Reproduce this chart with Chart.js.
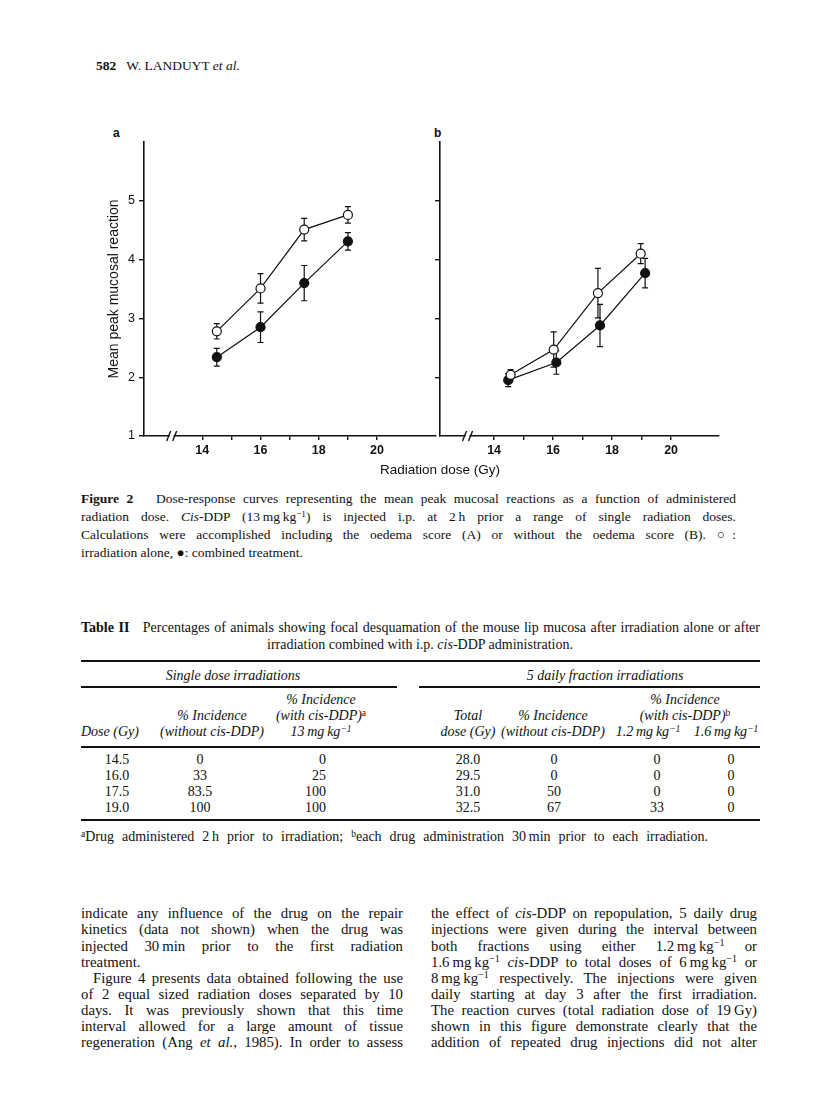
<!DOCTYPE html>
<html>
<head>
<meta charset="utf-8">
<script src="https://cdn.jsdelivr.net/npm/chart.js@4.4.1/dist/chart.umd.min.js"></script>
<style>
  html, body { margin: 0; padding: 0; background: #fff; }
  body { width: 816px; height: 1118px; position: relative; overflow: hidden; color: #111;
         font-family: "Liberation Serif", "Times New Roman", serif; }
  .abs { position: absolute; white-space: nowrap; }
  .ln { position: absolute; line-height: 16px; }
  .j { text-align: justify; text-align-last: justify; white-space: normal; }
  .c { transform: translateX(-50%); text-align: center; }
  .r { transform: translateX(-100%); text-align: right; }
  .it { font-style: italic; }
  sup { font-size: 0.68em; vertical-align: 0.45em; line-height: 0; }
  .sans { font-family: "Liberation Sans", Arial, sans-serif; }
  .rule { position: absolute; background: #111; }
  canvas { position: absolute; }
  .cap { font-size: 13.5px; }
  .tb { font-size: 14px; }
  .body { font-size: 14.8px; }
</style>
</head>
<body>

<div class="abs" style="left:96px; top:58px; font-size:13.5px;"><b>582</b>&nbsp;&nbsp; W. LANDUYT <i>et al.</i></div>

<div class="abs sans" style="left:113px; top:126px; font-size:12px; font-weight:bold;">a</div>
<div class="abs sans" style="left:434px; top:126px; font-size:12px; font-weight:bold;">b</div>

<canvas id="chartA" width="341" height="340" style="left:100px; top:125px;"></canvas>
<canvas id="chartB" width="304" height="340" style="left:420px; top:125px;"></canvas>

<div class="abs sans c" style="left:440px; top:462px; font-size:13.5px;">Radiation dose (Gy)</div>

<!-- figure caption -->
<div class="ln cap j" style="left:81px; top:491px; width:655px;"><b>Figure 2</b>&nbsp;&nbsp; Dose-response curves representing the mean peak mucosal reactions as a function of administered</div>
<div class="ln cap j" style="left:81px; top:509px; width:655px;">radiation dose. <i>Cis</i>-DDP (13&thinsp;mg&thinsp;kg<sup>−1</sup>) is injected i.p. at 2&thinsp;h prior a range of single radiation doses.</div>
<div class="ln cap j" style="left:81px; top:527px; width:655px;">Calculations were accomplished including the oedema score (A) or without the oedema score (B). ○:</div>
<div class="ln cap" style="left:81px; top:545px; white-space:nowrap;">irradiation alone, ●: combined treatment.</div>

<!-- table -->
<div class="ln tb j" style="left:81px; top:620px; width:679px;"><b>Table II</b>&nbsp;&nbsp; Percentages of animals showing focal desquamation of the mouse lip mucosa after irradiation alone or after</div>
<div class="ln tb c" style="left:420px; top:637px; white-space:nowrap;">irradiation combined with i.p. <i>cis</i>-DDP administration.</div>

<div class="rule" style="left:81px; top:660px; width:679px; height:2px;"></div>
<div class="ln tb c it" style="left:233px; top:668px; white-space:nowrap;">Single dose irradiations</div>
<div class="ln tb c it" style="left:605px; top:668px; white-space:nowrap;">5 daily fraction irradiations</div>
<div class="rule" style="left:81px; top:686px; width:316px; height:1.5px;"></div>
<div class="rule" style="left:419px; top:686px; width:341px; height:1.5px;"></div>

<div class="ln tb c it" style="left:321px; top:692px; white-space:nowrap;">% Incidence</div>
<div class="ln tb c it" style="left:321px; top:708px; white-space:nowrap;">(with cis-DDP)<sup style="font-style:normal">a</sup></div>
<div class="ln tb c it" style="left:321px; top:724px; white-space:nowrap;">13&thinsp;mg&thinsp;kg<sup>−1</sup></div>
<div class="ln tb c it" style="left:212px; top:708px; white-space:nowrap;">% Incidence</div>
<div class="ln tb c it" style="left:212px; top:724px; white-space:nowrap;">(without cis-DDP)</div>
<div class="ln tb it" style="left:81px; top:724px; white-space:nowrap;">Dose (Gy)</div>
<div class="ln tb c it" style="left:468px; top:708px; white-space:nowrap;">Total</div>
<div class="ln tb c it" style="left:468px; top:724px; white-space:nowrap;">dose (Gy)</div>
<div class="ln tb c it" style="left:553px; top:708px; white-space:nowrap;">% Incidence</div>
<div class="ln tb c it" style="left:553px; top:724px; white-space:nowrap;">(without cis-DDP)</div>
<div class="ln tb c it" style="left:685px; top:692px; white-space:nowrap;">% Incidence</div>
<div class="ln tb c it" style="left:685px; top:708px; white-space:nowrap;">(with cis-DDP)<sup style="font-style:normal">b</sup></div>
<div class="ln tb c it" style="left:648px; top:724px; white-space:nowrap;">1.2&thinsp;mg&thinsp;kg<sup>−1</sup></div>
<div class="ln tb c it" style="left:726px; top:724px; white-space:nowrap;">1.6&thinsp;mg&thinsp;kg<sup>−1</sup></div>
<div class="rule" style="left:81px; top:746px; width:679px; height:1.5px;"></div>

<div class="ln tb c" style="left:117px; top:752px; line-height:16px;">14.5<br>16.0<br>17.5<br>19.0</div>
<div class="ln tb c" style="left:200px; top:752px;">0<br>33<br>83.5<br>100</div>
<div class="ln tb r" style="left:326px; top:752px;">0<br>25<br>100<br>100</div>
<div class="ln tb c" style="left:468px; top:752px;">28.0<br>29.5<br>31.0<br>32.5</div>
<div class="ln tb c" style="left:554px; top:752px;">0<br>0<br>50<br>67</div>
<div class="ln tb c" style="left:657px; top:752px;">0<br>0<br>0<br>33</div>
<div class="ln tb c" style="left:731px; top:752px;">0<br>0<br>0<br>0</div>
<div class="rule" style="left:81px; top:819px; width:679px; height:2px;"></div>
<div class="ln tb j" style="left:81px; top:829px; width:627px;"><sup>a</sup>Drug administered 2&thinsp;h prior to irradiation; <sup>b</sup>each drug administration 30&thinsp;min prior to each irradiation.</div>

<!-- body text -->
<div class="body">
<div class="ln j" style="left:81px; top:905px; width:322px;">indicate any influence of the drug on the repair</div>
<div class="ln j" style="left:81px; top:921px; width:322px;">kinetics (data not shown) when the drug was</div>
<div class="ln j" style="left:81px; top:938px; width:322px;">injected 30&thinsp;min prior to the first radiation</div>
<div class="ln" style="left:81px; top:954px; white-space:nowrap;">treatment.</div>
<div class="ln j" style="left:93px; top:970px; width:310px;">Figure 4 presents data obtained following the use</div>
<div class="ln j" style="left:81px; top:986px; width:322px;">of 2 equal sized radiation doses separated by 10</div>
<div class="ln j" style="left:81px; top:1002px; width:322px;">days. It was previously shown that this time</div>
<div class="ln j" style="left:81px; top:1018px; width:322px;">interval allowed for a large amount of tissue</div>
<div class="ln j" style="left:81px; top:1034px; width:322px;">regeneration (Ang <i>et al.</i>, 1985). In order to assess</div>

<div class="ln j" style="left:431px; top:905px; width:326px;">the effect of <i>cis</i>-DDP on repopulation, 5 daily drug</div>
<div class="ln j" style="left:431px; top:921px; width:326px;">injections were given during the interval between</div>
<div class="ln j" style="left:431px; top:938px; width:326px;">both fractions using either 1.2&thinsp;mg&thinsp;kg<sup>−1</sup> or</div>
<div class="ln j" style="left:431px; top:954px; width:326px;">1.6&thinsp;mg&thinsp;kg<sup>−1</sup> <i>cis</i>-DDP to total doses of 6&thinsp;mg&thinsp;kg<sup>−1</sup> or</div>
<div class="ln j" style="left:431px; top:970px; width:326px;">8&thinsp;mg&thinsp;kg<sup>−1</sup> respectively. The injections were given</div>
<div class="ln j" style="left:431px; top:986px; width:326px;">daily starting at day 3 after the first irradiation.</div>
<div class="ln j" style="left:431px; top:1002px; width:326px;">The reaction curves (total radiation dose of 19&thinsp;Gy)</div>
<div class="ln j" style="left:431px; top:1018px; width:326px;">shown in this figure demonstrate clearly that the</div>
<div class="ln j" style="left:431px; top:1034px; width:326px;">addition of repeated drug injections did not alter</div>
</div>

<script>
// panel a (with oedema score)
var doses = [14.5, 16, 17.5, 19];
var aloneA = [2.78, 3.51, 4.51, 4.76];
var aloneAErr = [0.13, 0.25, 0.19, 0.14];
var combA = [2.34, 2.85, 3.60, 4.31];
var combAErr = [0.15, 0.26, 0.30, 0.15];

// panel b (without oedema score), points slightly shifted in the figure
var dosesBAlone = [14.56, 16.02, 17.52, 18.97];
var dosesBComb = [14.48, 16.11, 17.59, 19.12];
var aloneB = [2.04, 2.47, 3.43, 4.10];
var aloneBErr = [0.09, 0.30, 0.42, 0.17];
var combB = [1.95, 2.25, 2.88, 3.77];
var combBErr = [0.11, 0.20, 0.36, 0.25];

var xTicks = [14, 15, 16, 17, 18, 19, 20];
var yTicksA = [1, 2, 3, 4, 5];
var yTicksB = [2, 3, 4, 5];

var ink = '#111';
var sans = '"Liberation Sans", Arial, sans-serif';

function pts(xs, ys) {
  return xs.map(function(x, i){ return {x: x, y: ys[i]}; });
}

// vertical error bars drawn under the markers
var errorBars = {
  id: 'errorBars',
  beforeDatasetsDraw: function(chart) {
    var ctx = chart.ctx, xs = chart.scales.x, ys = chart.scales.y;
    ctx.save();
    ctx.strokeStyle = ink;
    ctx.lineWidth = 1.2;
    chart.data.datasets.forEach(function(ds) {
      if (!ds.err) return;
      ds.data.forEach(function(p, i) {
        var px = xs.getPixelForValue(p.x);
        var top = ys.getPixelForValue(p.y + ds.err[i]);
        var bot = ys.getPixelForValue(p.y - ds.err[i]);
        ctx.beginPath();
        ctx.moveTo(px, top); ctx.lineTo(px, bot);
        ctx.moveTo(px - 3, top); ctx.lineTo(px + 3, top);
        ctx.moveTo(px - 3, bot); ctx.lineTo(px + 3, bot);
        ctx.stroke();
      });
    });
    ctx.restore();
  }
};

// the "//" break on the x axis
var axisBreak = {
  id: 'axisBreak',
  afterDraw: function(chart, args, opts) {
    var ctx = chart.ctx;
    var px = chart.scales.x.getPixelForValue(opts.at);
    var py = chart.chartArea.bottom;
    ctx.save();
    ctx.fillStyle = '#fff';
    ctx.fillRect(px - 2, py - 2, 4, 4);
    ctx.strokeStyle = ink;
    ctx.lineWidth = 1.4;
    ctx.beginPath();
    ctx.moveTo(px - 5, py + 5); ctx.lineTo(px - 1, py - 5);
    ctx.moveTo(px + 1, py + 5); ctx.lineTo(px + 5, py - 5);
    ctx.stroke();
    ctx.restore();
  }
};

function series(data, err, fill) {
  return {
    data: data,
    err: err,
    showLine: true,
    borderColor: ink,
    borderWidth: 1.2,
    tension: 0,
    pointRadius: 4.5,
    pointBorderWidth: 1.2,
    pointBorderColor: ink,
    pointBackgroundColor: fill
  };
}

function makePanel(id, sets, xr, yTicks, opt) {
  var ctx = document.getElementById(id).getContext('2d');
  return new Chart(ctx, {
    type: 'scatter',
    data: { datasets: sets },
    options: {
      responsive: false,
      animation: false,
      events: [],
      layout: { padding: { top: 17, right: 1, left: 0, bottom: 0 } },
      plugins: {
        legend: { display: false },
        tooltip: { enabled: false },
        axisBreak: { at: opt.breakAt }
      },
      scales: {
        x: {
          type: 'linear', min: xr[0], max: xr[1],
          afterBuildTicks: function(s){ s.ticks = xTicks.map(function(v){ return {value: v}; }); },
          afterFit: function(s){ s.height = 29; },
          grid: { drawOnChartArea: false, drawTicks: true, tickLength: 4, color: ink, lineWidth: 1.4 },
          border: { color: ink, width: 1.6 },
          ticks: {
            autoSkip: false, maxRotation: 0, padding: 3, color: ink,
            font: { family: sans, size: 12.5, weight: 'bold' },
            callback: function(v){ return v % 2 === 0 ? String(v) : ''; }
          }
        },
        y: {
          min: 1, max: 6,
          afterBuildTicks: function(s){ s.ticks = yTicks.map(function(v){ return {value: v}; }); },
          afterFit: function(s){ s.width = opt.yWidth; },
          grid: { drawOnChartArea: false, drawTicks: true, tickLength: 5, color: ink, lineWidth: 1.4 },
          border: { color: ink, width: 1.6 },
          title: {
            display: opt.title !== '',
            text: opt.title,
            color: ink,
            font: { family: sans, size: 14 },
            padding: { top: 6, bottom: 0 }
          },
          ticks: {
            padding: 4, color: ink,
            font: { family: sans, size: 12.5 },
            callback: function(v){ return opt.labels ? String(v) : ''; }
          }
        }
      }
    },
    plugins: [errorBars, axisBreak]
  });
}

makePanel('chartA', [
  series(pts(doses, aloneA), aloneAErr, '#fff'),
  series(pts(doses, combA), combAErr, ink)
], [12, 22], yTicksA, { yWidth: 44, title: 'Mean peak mucosal reaction', labels: true, breakAt: 12.95 });

makePanel('chartB', [
  series(pts(dosesBAlone, aloneB), aloneBErr, '#fff'),
  series(pts(dosesBComb, combB), combBErr, ink)
], [12.167, 21.6], yTicksB, { yWidth: 20, title: '', labels: false, breakAt: 13.1 });
</script>
</body>
</html>
